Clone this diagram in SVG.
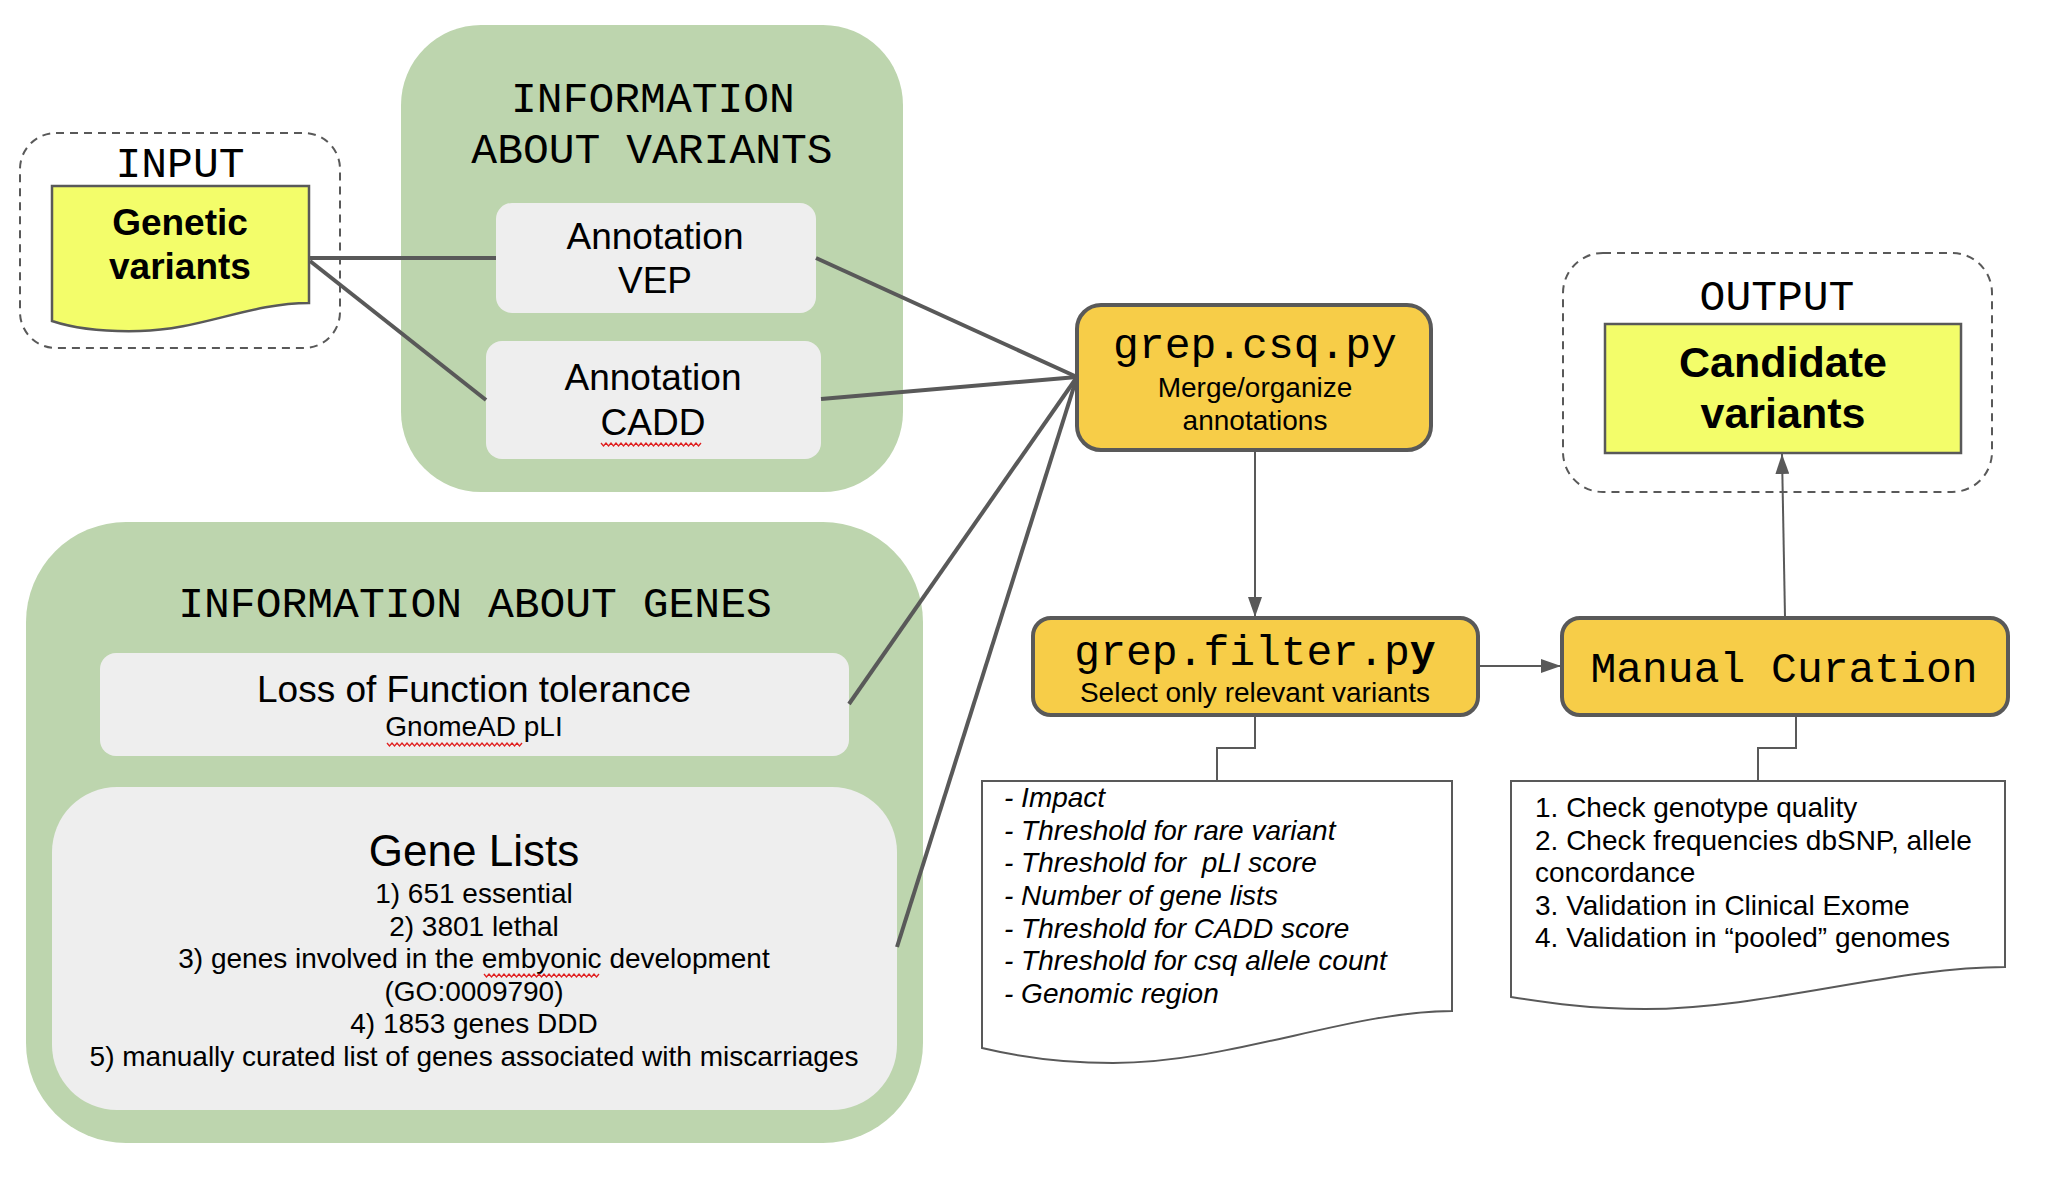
<svg xmlns="http://www.w3.org/2000/svg" width="2050" height="1178" viewBox="0 0 2050 1178">
<defs>
<style>
.mono{font-family:"Liberation Mono","Courier New",monospace;font-size:43px;fill:#000}
.sans{font-family:"Liberation Sans",Arial,sans-serif;fill:#000}
.green{fill:#bdd5ae}
.gray{fill:#eeeeee}
.orange{fill:#f7cd48;stroke:#595959;stroke-width:4}
.yellow{fill:#f3fd6a;stroke:#595959;stroke-width:2.5}
.dash{fill:none;stroke:#595959;stroke-width:2;stroke-dasharray:8 6}
.doc{fill:#fff;stroke:#595959;stroke-width:2}
.thick{stroke:#595959;stroke-width:4;fill:none}
.thin{stroke:#595959;stroke-width:2;fill:none}
.squig{stroke:#e02020;stroke-width:1.3;fill:none}
</style>
<marker id="arr" viewBox="0 0 20 14" refX="20" refY="7" markerWidth="20" markerHeight="14" markerUnits="userSpaceOnUse" orient="auto">
<path d="M0,0 L20,7 L0,14 Z" fill="#595959"/>
</marker>
</defs>

<g id="input-group">
<rect x="20" y="133" width="320" height="215" rx="36" ry="36" class="dash"/>
<text class="mono" x="180" y="177" text-anchor="middle">INPUT</text>
</g>
<g id="genetic-variants">
<path d="M52,186 H309 V303 C250,303 200,330 140,331 C100,332 70,327 52,321 Z" class="yellow"/>
<text class="sans" x="180" y="235" text-anchor="middle" font-size="37" font-weight="bold">Genetic</text>
<text class="sans" x="180" y="279" text-anchor="middle" font-size="37" font-weight="bold">variants</text>
</g>

<g id="variants-info">
<rect x="401" y="25" width="502" height="467" rx="80" ry="80" class="green"/>
<text class="mono" x="653" y="112" text-anchor="middle">INFORMATION</text>
<text class="mono" x="652" y="163" text-anchor="middle">ABOUT VARIANTS</text>
</g>
<g id="annotation-vep">
<rect x="496" y="203" width="320" height="110" rx="16" ry="16" class="gray"/>
<text class="sans" x="655" y="249" text-anchor="middle" font-size="37">Annotation</text>
<text class="sans" x="655" y="293" text-anchor="middle" font-size="37">VEP</text>
</g>
<g id="annotation-cadd">
<rect x="486" y="341" width="335" height="118" rx="16" ry="16" class="gray"/>
<text class="sans" x="653" y="390" text-anchor="middle" font-size="37">Annotation</text>
<text class="sans" x="653" y="435" text-anchor="middle" font-size="37">CADD</text>
<path class="squig" d="M601,443 l2.5,3 l2.5,-3 l2.5,3 l2.5,-3 l2.5,3 l2.5,-3 l2.5,3 l2.5,-3 l2.5,3 l2.5,-3 l2.5,3 l2.5,-3 l2.5,3 l2.5,-3 l2.5,3 l2.5,-3 l2.5,3 l2.5,-3 l2.5,3 l2.5,-3 l2.5,3 l2.5,-3 l2.5,3 l2.5,-3 l2.5,3 l2.5,-3 l2.5,3 l2.5,-3 l2.5,3 l2.5,-3 l2.5,3 l2.5,-3 l2.5,3 l2.5,-3 l2.5,3 l2.5,-3 l2.5,3 l2.5,-3 l2.5,3 l2.5,-3"/>
</g>

<g id="genes-info">
<rect x="26" y="522" width="897" height="621" rx="100" ry="100" class="green"/>
<text class="mono" x="475" y="617" text-anchor="middle">INFORMATION ABOUT GENES</text>
</g>
<g id="lof-tolerance">
<rect x="100" y="653" width="749" height="103" rx="16" ry="16" class="gray"/>
<text class="sans" x="474" y="702" text-anchor="middle" font-size="37">Loss of Function tolerance</text>
<text class="sans" x="474" y="736" text-anchor="middle" font-size="28">GnomeAD pLI</text>
<path class="squig" d="M387,743 l2.5,3 l2.5,-3 l2.5,3 l2.5,-3 l2.5,3 l2.5,-3 l2.5,3 l2.5,-3 l2.5,3 l2.5,-3 l2.5,3 l2.5,-3 l2.5,3 l2.5,-3 l2.5,3 l2.5,-3 l2.5,3 l2.5,-3 l2.5,3 l2.5,-3 l2.5,3 l2.5,-3 l2.5,3 l2.5,-3 l2.5,3 l2.5,-3 l2.5,3 l2.5,-3 l2.5,3 l2.5,-3 l2.5,3 l2.5,-3 l2.5,3 l2.5,-3 l2.5,3 l2.5,-3 l2.5,3 l2.5,-3 l2.5,3 l2.5,-3 l2.5,3 l2.5,-3 l2.5,3 l2.5,-3 l2.5,3 l2.5,-3 l2.5,3 l2.5,-3 l2.5,3 l2.5,-3 l2.5,3 l2.5,-3 l2.5,3 l2.5,-3"/>
</g>
<g id="gene-lists">
<rect x="52" y="787" width="845" height="323" rx="65" ry="65" class="gray"/>
<text class="sans" x="474" y="866" text-anchor="middle" font-size="44">Gene Lists</text>
<g class="sans" font-size="28" text-anchor="middle">
<text x="474" y="903">1) 651 essential</text>
<text x="474" y="936">2) 3801 lethal</text>
<text x="474" y="968">3) genes involved in the embyonic development</text>
<text x="474" y="1001">(GO:0009790)</text>
<text x="474" y="1033">4) 1853 genes DDD</text>
<text x="474" y="1066">5) manually curated list of genes associated with miscarriages</text>
</g>
<path class="squig" d="M484,974 l2.5,3 l2.5,-3 l2.5,3 l2.5,-3 l2.5,3 l2.5,-3 l2.5,3 l2.5,-3 l2.5,3 l2.5,-3 l2.5,3 l2.5,-3 l2.5,3 l2.5,-3 l2.5,3 l2.5,-3 l2.5,3 l2.5,-3 l2.5,3 l2.5,-3 l2.5,3 l2.5,-3 l2.5,3 l2.5,-3 l2.5,3 l2.5,-3 l2.5,3 l2.5,-3 l2.5,3 l2.5,-3 l2.5,3 l2.5,-3 l2.5,3 l2.5,-3 l2.5,3 l2.5,-3 l2.5,3 l2.5,-3 l2.5,3 l2.5,-3 l2.5,3 l2.5,-3 l2.5,3 l2.5,-3 l2.5,3 l2.5,-3"/>
</g>

<g id="grep-csq">
<rect x="1077" y="305" width="354" height="145" rx="24" ry="24" class="orange"/>
<text class="mono" x="1255" y="358" text-anchor="middle">grep.csq.py</text>
<text class="sans" x="1255" y="397" text-anchor="middle" font-size="28">Merge/organize</text>
<text class="sans" x="1255" y="430" text-anchor="middle" font-size="28">annotations</text>
</g>
<g id="grep-filter">
<rect x="1033" y="618" width="445" height="97" rx="18" ry="18" class="orange"/>
<text class="mono" x="1255" y="665" text-anchor="middle">grep.filter.p<tspan font-weight="bold">y</tspan></text>
<text class="sans" x="1255" y="702" text-anchor="middle" font-size="28">Select only relevant variants</text>
</g>
<g id="manual-curation">
<rect x="1562" y="618" width="446" height="97" rx="18" ry="18" class="orange"/>
<text class="mono" x="1784" y="682" text-anchor="middle">Manual Curation</text>
</g>
<g id="output-group">
<rect x="1563" y="253" width="429" height="239" rx="40" ry="40" class="dash"/>
<text class="mono" x="1777" y="310" text-anchor="middle">OUTPUT</text>
</g>
<g id="candidate-variants">
<rect x="1605" y="324" width="356" height="129" class="yellow"/>
<text class="sans" x="1783" y="377" text-anchor="middle" font-size="43" font-weight="bold">Candidate</text>
<text class="sans" x="1783" y="428" text-anchor="middle" font-size="43" font-weight="bold">variants</text>
</g>

<g id="filter-notes">
<path d="M982,781 H1452 V1011 C1350,1011 1230,1063 1113,1063 C1060,1063 1020,1057 982,1048 Z" class="doc"/>
<g class="sans" font-size="28" font-style="italic">
<text x="1004" y="807">- Impact</text>
<text x="1004" y="840">- Threshold for rare variant</text>
<text x="1004" y="872" xml:space="preserve">- Threshold for  pLI score</text>
<text x="1004" y="905">- Number of gene lists</text>
<text x="1004" y="938">- Threshold for CADD score</text>
<text x="1004" y="970">- Threshold for csq allele count</text>
<text x="1004" y="1003">- Genomic region</text>
</g>
</g>
<g id="curation-notes">
<path d="M1511,781 H2005 V967 C1895,967 1765,1009 1645,1009 C1590,1009 1550,1003 1511,997 Z" class="doc"/>
<g class="sans" font-size="28">
<text x="1535" y="817">1. Check genotype quality</text>
<text x="1535" y="850">2. Check frequencies dbSNP, allele</text>
<text x="1535" y="882">concordance</text>
<text x="1535" y="915">3. Validation in Clinical Exome</text>
<text x="1535" y="947">4. Validation in “pooled” genomes</text>
</g>
</g>

<g id="connectors">
<line x1="309" y1="258" x2="496" y2="258" class="thick"/>
<line x1="310" y1="261" x2="486" y2="400" class="thick"/>
<line x1="816" y1="258" x2="1077" y2="377" class="thick"/>
<line x1="821" y1="399" x2="1077" y2="377" class="thick"/>
<line x1="849" y1="704" x2="1077" y2="377" class="thick"/>
<line x1="897" y1="947" x2="1077" y2="377" class="thick"/>
<line x1="1255" y1="452" x2="1255" y2="617" class="thin" marker-end="url(#arr)"/>
<line x1="1478" y1="666" x2="1561" y2="666" class="thin" stroke-width="3" marker-end="url(#arr)"/>
<line x1="1785" y1="617" x2="1782" y2="454" class="thin" marker-end="url(#arr)"/>
<polyline points="1255,716 1255,748 1217,748 1217,781" class="thin" stroke-width="2.5"/>
<polyline points="1796,716 1796,748 1758,748 1758,781" class="thin" stroke-width="2.5"/>
</g>
</svg>
